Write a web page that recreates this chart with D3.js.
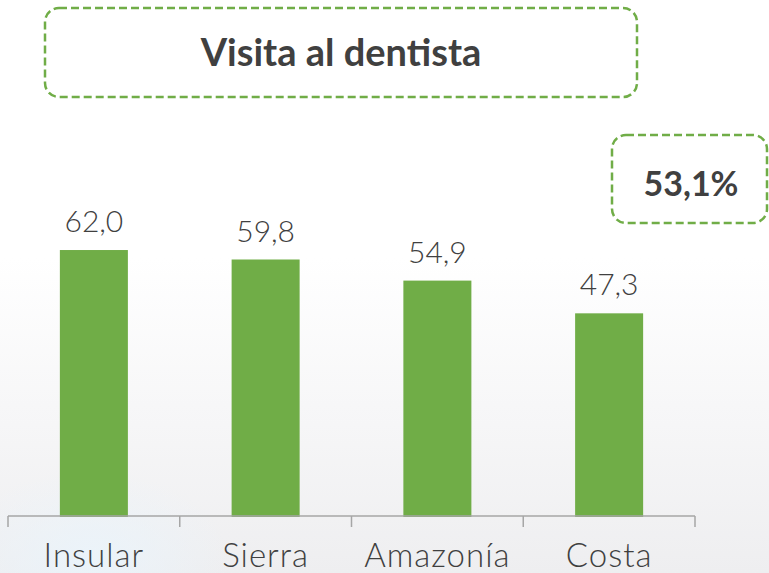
<!DOCTYPE html>
<html>
<head>
<meta charset="utf-8">
<script src="https://cdn.jsdelivr.net/npm/d3@7"></script>
<style>
  html, body { margin: 0; padding: 0; background: #ffffff; }
  svg { display: block; }
</style>
</head>
<body>
<svg id="chart" width="769" height="573"></svg>
<script>
// Regional values: share visiting the dentist (%)
const categories = ["Insular", "Sierra", "Amazonía", "Costa"];
const values = [62.0, 59.8, 54.9, 47.3];
const valueLabels = ["62,0", "59,8", "54,9", "47,3"];
const chartTitle = "Visita al dentista";
const totalLabel = "53,1%";

const W = 769, H = 573;
const green = "#70AD47";
const textColor = "#404040";
const axisColor = "#A6A6A6";

const svg = d3.select("#chart");
const defs = svg.append("defs");

// Soft backdrop: white fading to a light grey towards the bottom
const bg = defs.append("linearGradient").attr("id", "bg").attr("x1", 0).attr("y1", 0).attr("x2", 0).attr("y2", 1);
bg.append("stop").attr("offset", "0.45").attr("stop-color", "#ffffff");
bg.append("stop").attr("offset", "1").attr("stop-color", "#eeeef0");
svg.append("rect").attr("width", W).attr("height", H).attr("fill", "url(#bg)");

const haze = defs.append("radialGradient").attr("id", "haze");
haze.append("stop").attr("offset", "0").attr("stop-color", "#eaf4fb").attr("stop-opacity", 0.9);
haze.append("stop").attr("offset", "1").attr("stop-color", "#eaf4fb").attr("stop-opacity", 0);
svg.append("ellipse").attr("cx", 90).attr("cy", 560).attr("rx", 140).attr("ry", 90).attr("fill", "url(#haze)");

const x = d3.scaleBand()
  .domain(categories)
  .range([8, 695])
  .paddingInner(0.604)
  .paddingOuter(0.302);

const y = d3.scaleLinear()
  .domain([0, 70])
  .range([517, 517 - 70 * 4.306]);

// Bars
svg.append("g").selectAll("rect")
  .data(values)
  .join("rect")
  .attr("x", (d, i) => x(categories[i]))
  .attr("y", d => y(d))
  .attr("width", x.bandwidth())
  .attr("height", d => y(0) - y(d))
  .attr("fill", green);

// Value labels above bars
svg.append("g").selectAll("text")
  .data(values)
  .join("text")
  .attr("x", (d, i) => x(categories[i]) + x.bandwidth() / 2)
  .attr("y", d => y(d) - 18)
  .attr("text-anchor", "middle")
  .attr("font-family", "Lato, 'Open Sans', sans-serif")
  .attr("font-weight", 300)
  .attr("font-size", 30)
  .attr("fill", textColor)
  .text((d, i) => valueLabels[i]);

// Category axis with ticks at band boundaries
const axisY = 516;
const step = x.step();
const x0 = 8;
const axis = svg.append("g").attr("stroke", axisColor).attr("stroke-width", 1.5);
axis.append("line").attr("x1", x0).attr("x2", x0 + step * categories.length).attr("y1", axisY).attr("y2", axisY);
axis.selectAll("line.tick")
  .data(d3.range(categories.length + 1))
  .join("line")
  .attr("class", "tick")
  .attr("x1", i => x0 + i * step)
  .attr("x2", i => x0 + i * step)
  .attr("y1", axisY)
  .attr("y2", axisY + 11);

svg.append("g").selectAll("text")
  .data(categories)
  .join("text")
  .attr("x", d => x(d) + x.bandwidth() / 2)
  .attr("y", 567)
  .attr("text-anchor", "middle")
  .attr("font-family", "Lato, 'Open Sans', sans-serif")
  .attr("font-weight", 300)
  .attr("font-size", 33)
  .attr("letter-spacing", 1)
  .attr("fill", textColor)
  .text(d => d);

// Title box
svg.append("rect")
  .attr("x", 45).attr("y", 8).attr("width", 592).attr("height", 89)
  .attr("rx", 14).attr("ry", 14)
  .attr("fill", "none").attr("stroke", green).attr("stroke-width", 2.5)
  .attr("stroke-dasharray", "8,4");
svg.append("text")
  .attr("x", 341).attr("y", 66)
  .attr("text-anchor", "middle")
  .attr("font-family", "Lato, sans-serif")
  .attr("font-weight", 700)
  .attr("font-size", 38)
  .attr("fill", textColor)
  .text(chartTitle);

// National total box
svg.append("rect")
  .attr("x", 612).attr("y", 135).attr("width", 155).attr("height", 88)
  .attr("rx", 14).attr("ry", 14)
  .attr("fill", "none").attr("stroke", green).attr("stroke-width", 2.5)
  .attr("stroke-dasharray", "8,4");
svg.append("text")
  .attr("x", 691).attr("y", 196)
  .attr("text-anchor", "middle")
  .attr("font-family", "Lato, sans-serif")
  .attr("font-weight", 700)
  .attr("font-size", 34)
  .attr("fill", textColor)
  .text(totalLabel);
</script>
</body>
</html>
